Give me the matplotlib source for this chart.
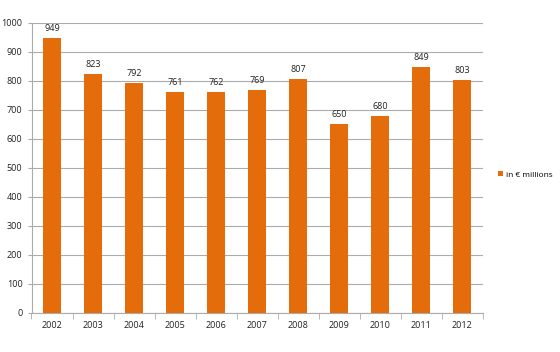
import matplotlib
matplotlib.use("Agg")
from matplotlib import pyplot as plt
import numpy as np

years = ["2002", "2003", "2004", "2005", "2006", "2007", "2008", "2009", "2010", "2011", "2012"]
values = [949, 823, 792, 761, 762, 769, 807, 650, 680, 849, 803]
series_name = "in € millions"

plt.rcParams['font.family'] = ['Open Sans', 'DejaVu Sans']

orange = "#E46C0A"
grid_col = "#ABABAB"

fig = plt.figure(figsize=(5.6, 3.52), dpi=100)
ax = fig.add_axes([0.05625, 0.1108, 0.8054, 0.8239])

x = np.arange(len(years))
bars = ax.bar(x, values, width=0.42, color=orange, label=series_name, zorder=3)

# labels above bars
for xi, v in zip(x, values):
    ax.text(xi, v + 18, str(v), ha="center", va="bottom", fontsize=6.5, color="#222222")

ax.set_xlim(-0.5, len(years) - 0.5)
ax.set_ylim(0, 1000)
ax.set_yticks(range(0, 1001, 100))
ax.set_xticks(x)
ax.set_xticklabels(years)
ax.set_xticks(np.arange(-0.5, len(years), 1), minor=True)

ax.yaxis.grid(True, color=grid_col, linewidth=0.8, zorder=0)
ax.set_axisbelow(True)

for s in ["top", "right"]:
    ax.spines[s].set_visible(False)
ax.spines["left"].set_color(grid_col)
ax.spines["bottom"].set_color(grid_col)

ax.tick_params(axis="x", which="major", length=0, labelsize=6.5, pad=6, colors="#222222")
ax.tick_params(axis="x", which="minor", length=4, color=grid_col)
ax.tick_params(axis="y", length=3, color=grid_col, labelsize=6.5, labelcolor="#222222")

leg = fig.legend(handles=[bars], labels=[series_name], loc="center left",
                 bbox_to_anchor=(0.875, 0.503), frameon=False, fontsize=6,
                 handlelength=0.6, handleheight=0.6, handletextpad=0.4)

fig.savefig("out.png", dpi=100)
